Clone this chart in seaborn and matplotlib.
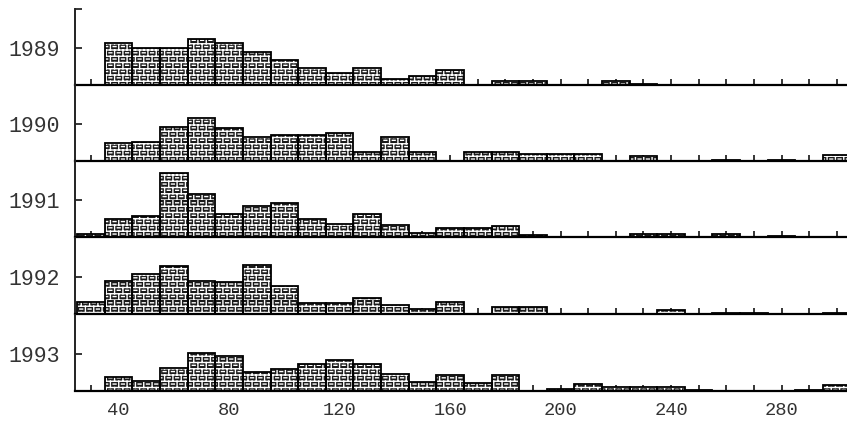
import numpy as np
import pandas as pd
import matplotlib
matplotlib.use("Agg")
import matplotlib.pyplot as plt
import matplotlib.hatch as mhatch
import matplotlib.transforms as mtransforms
from matplotlib.path import Path
import seaborn as sns

# ---- data: histogram counts per 10-unit class (class centres 30 ... 300) ----
class_centres = list(range(30, 310, 10))
years = ["1989", "1990", "1991", "1992", "1993"]

counts_1989 = [0, 11.3, 10.1, 10.1, 12.5, 11.3, 9.0, 6.8, 4.7, 3.3, 4.7, 1.7, 2.4, 4.0,
               0, 1.2, 1.2, 0, 0, 1.0, 0.3, 0, 0, 0, 0, 0, 0, 0]
counts_1990 = [0, 5.0, 5.2, 9.1, 11.7, 8.8, 6.6, 7.0, 7.0, 7.5, 2.3, 6.6, 2.3, 0,
               2.3, 2.3, 1.8, 1.8, 1.8, 0, 1.3, 0, 0, 0.3, 0, 0.3, 0, 1.6]
counts_1991 = [0.9, 4.9, 5.8, 17.2, 11.5, 6.3, 8.3, 9.2, 4.9, 3.5, 6.2, 3.3, 1.1, 2.5,
               2.3, 3.0, 0.5, 0, 0, 0, 0.8, 0.8, 0, 0.9, 0, 0.4, 0, 0]
counts_1992 = [3.2, 9.0, 10.8, 13.1, 9.0, 8.7, 13.3, 7.5, 3.0, 3.0, 4.2, 2.3, 1.4, 3.2,
               0, 2.0, 2.0, 0, 0, 0, 0, 1.0, 0, 0.4, 0.4, 0, 0, 0.4]
counts_1993 = [0, 3.7, 2.7, 6.3, 10.2, 9.5, 5.2, 5.9, 7.3, 8.4, 7.2, 4.5, 2.3, 4.3,
               2.1, 4.4, 0, 0.5, 2.0, 1.0, 1.0, 1.0, 0.3, 0, 0, 0, 0.3, 1.5]

x_tick_labels = [40, 80, 120, 160, 200, 240, 280]
year_tick_value = 10

series = [counts_1989, counts_1990, counts_1991, counts_1992, counts_1993]
data = pd.DataFrame(
    {"year": np.repeat(years, len(class_centres)),
     "centre": class_centres * len(years),
     "count": np.concatenate(series)}
)
bin_edges = [float(e) for e in range(25, 306, 10)]


# ---- brick texture: white mortar courses/joints plus a slit in each brick ----
class BrickHatch(mhatch.HatchPatternBase):
    rows = 16
    bricks = 12

    def __init__(self, hatch, density):
        on = "+" in hatch
        r, b = self.rows, self.bricks
        self.num_vertices = (2 * r + 2 * r * b + 2 * r * b) if on else 0

    def set_vertices_and_codes(self, vertices, codes):
        r, b = self.rows, self.bricks
        ys = np.arange(r) / r
        # horizontal mortar courses
        h = vertices[:2 * r]
        h[0::2, 0] = 0.0
        h[0::2, 1] = ys
        h[1::2, 0] = 1.0
        h[1::2, 1] = ys
        # vertical joints (half-brick offset between courses) and brick slits
        v = vertices[2 * r:]
        k = 0
        for i in range(r):
            odd = i % 2
            joint = 0.75 if odd else 0.25
            slit0, slit1 = (0.08, 0.42) if odd else (0.58, 0.92)
            for j in range(b):
                x = (j + joint) / b
                v[k] = (x, ys[i])
                v[k + 1] = (x, ys[i] + 1.0 / r)
                k += 2
                yc = ys[i] + 0.55 / r
                v[k] = ((j + slit0) / b, yc)
                v[k + 1] = ((j + slit1) / b, yc)
                k += 2
        codes[0::2] = Path.MOVETO
        codes[1::2] = Path.LINETO


mhatch._hatch_types[:] = [BrickHatch]

sns.set_style("white")
plt.rcParams["font.family"] = ["Liberation Mono", "DejaVu Sans Mono"]
plt.rcParams["hatch.linewidth"] = 1.0

W, H = 847, 422
fig = plt.figure(figsize=(W / 100, H / 100), dpi=100)
fig.patch.set_facecolor("white")

baselines_px = [85, 161, 237, 314, 391]
panel_h_px = 76
left_px = 75
px_per_unit = 3.7
ymax = panel_h_px / px_per_unit
text_color = "#333333"
label_shift = mtransforms.ScaledTranslation(-4 / 100, 0, fig.dpi_scale_trans)

for i, (year, base) in enumerate(zip(years, baselines_px)):
    ax = fig.add_axes([left_px / W, (H - base) / H, (W - left_px) / W, panel_h_px / H])
    sub = data[data["year"] == year]
    # textured bar bodies
    sns.histplot(data=sub, x="centre", weights="count", bins=bin_edges, ax=ax,
                 color="#1a1a1a", edgecolor="white", linewidth=0, alpha=1,
                 hatch="+", stat="count")
    # black outlines on top
    sns.histplot(data=sub, x="centre", weights="count", bins=bin_edges, ax=ax,
                 fill=False, color="black", linewidth=1.3, stat="count")
    ax.set_facecolor("none")
    ax.set_xlim(24.2, 303.7)
    ax.set_ylim(0, ymax)
    ax.set_xlabel("")
    ax.set_ylabel("")
    for s in ("top", "right"):
        ax.spines[s].set_visible(False)
    ax.spines["bottom"].set_linewidth(1.6)
    ax.spines["left"].set_linewidth(1.4)
    ax.spines["bottom"].set_color("black")
    ax.spines["left"].set_color("#222222")

    ax.set_xticks(np.arange(30, 301, 10), minor=True)
    if i == len(years) - 1:
        ax.set_xticks(x_tick_labels)
        ax.set_xticklabels([str(v) for v in x_tick_labels], fontsize=13.5, color=text_color)
        for lab in ax.get_xticklabels():
            lab.set_transform(lab.get_transform() + label_shift)
    else:
        ax.set_xticks([])
    ax.tick_params(axis="x", which="both", direction="in", length=4, width=1.1,
                   color="black", pad=8, bottom=True)

    yt = [year_tick_value]
    yl = [year]
    if i == 0:
        yt.append(ymax)
        yl.append("")
    ax.set_yticks(yt)
    ax.set_yticklabels(yl, fontsize=15.5, color=text_color)
    ax.tick_params(axis="y", direction="in", length=5, width=1.1, color="black",
                   pad=11, left=True)

fig.savefig("out.png", dpi=100, facecolor="white")
